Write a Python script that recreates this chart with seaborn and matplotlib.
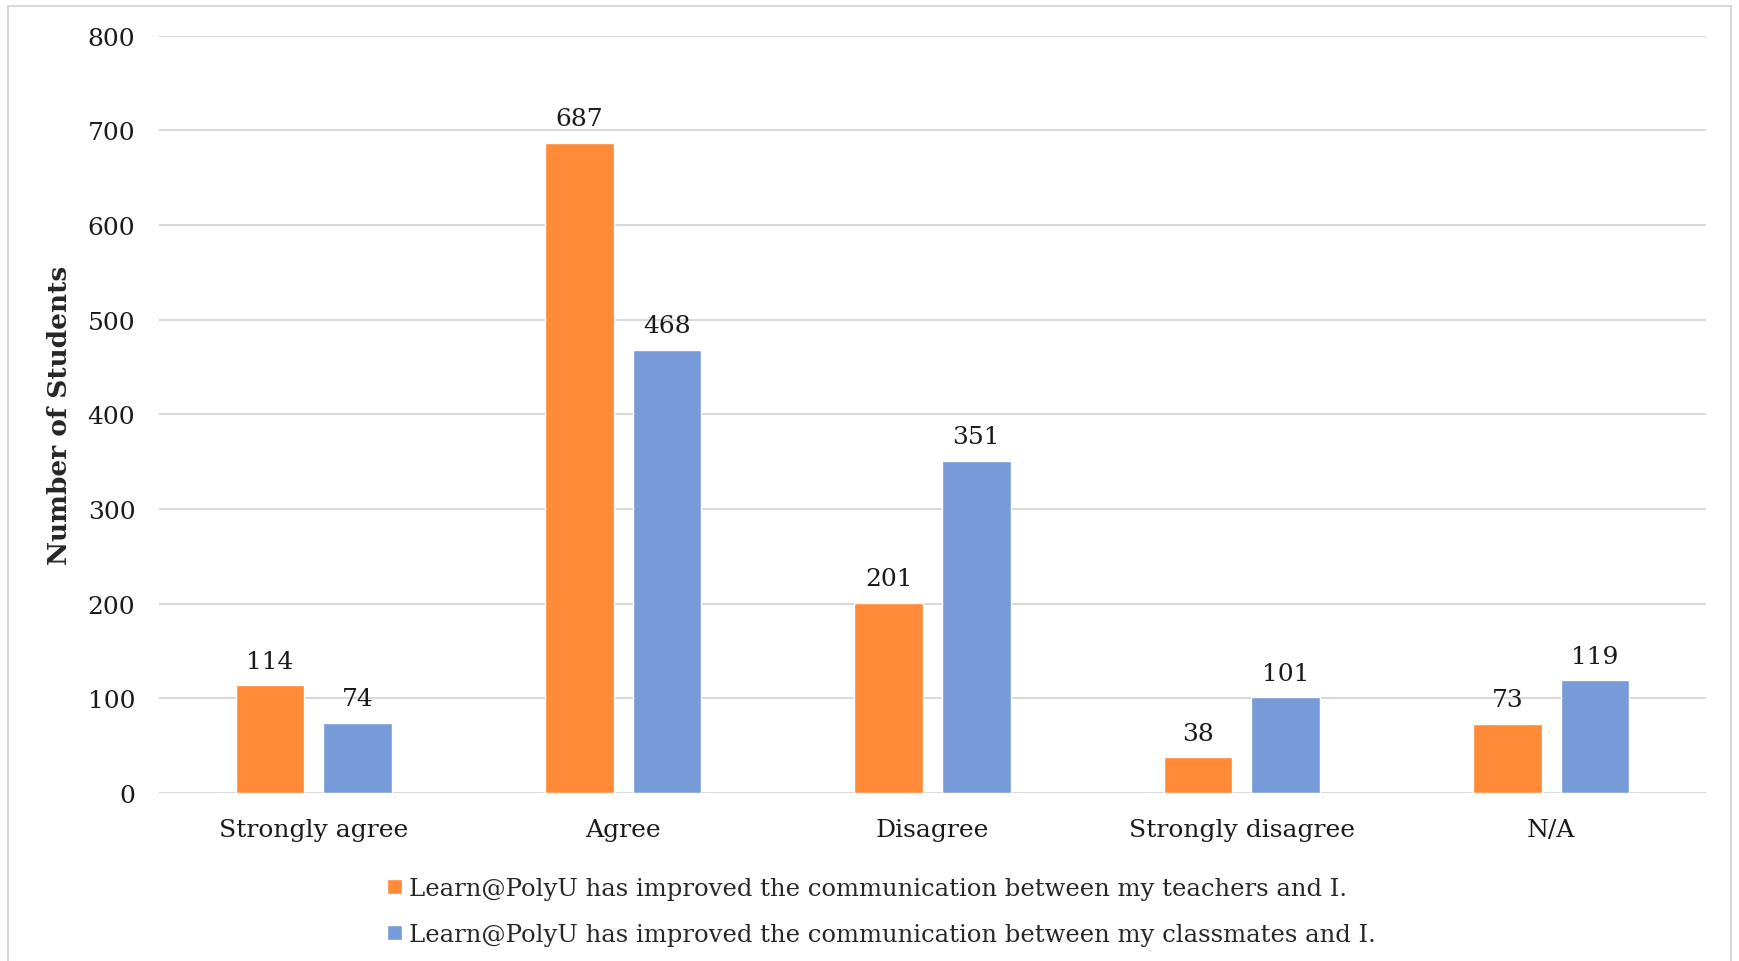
import pandas as pd
import matplotlib
matplotlib.use("Agg")
import matplotlib.pyplot as plt
from matplotlib.patches import Rectangle
import seaborn as sns

# Survey responses
categories = ["Strongly agree", "Agree", "Disagree", "Strongly disagree", "N/A"]
teachers = [114, 687, 201, 38, 73]
classmates = [74, 468, 351, 101, 119]
series_names = [
    "Learn@PolyU has improved the communication between my teachers and I.",
    "Learn@PolyU has improved the communication between my classmates and I.",
]
y_ticks = [0, 100, 200, 300, 400, 500, 600, 700, 800]

df = pd.DataFrame({
    "Response": categories * 2,
    "Students": teachers + classmates,
    "Statement": [series_names[0]] * 5 + [series_names[1]] * 5,
})

sns.set_theme(style="white")
plt.rcParams["font.family"] = ["DejaVu Serif"]

fig = plt.figure(figsize=(17.39, 9.62), dpi=100)
ax = fig.add_axes([0.0914, 0.1746, 0.8896, 0.7874])

sns.barplot(
    data=df, x="Response", y="Students", hue="Statement",
    palette=["#FF8A38", "#779BD8"], width=0.566, gap=0.216,
    saturation=1, ax=ax, legend=True,
)

for cont in ax.containers:
    ax.bar_label(cont, padding=9, fontsize=18, color="#1a1a1a")

ax.set_ylim(0, 800)
ax.set_yticks(y_ticks)
ax.set_xlim(-0.5, len(categories) - 0.5)
ax.yaxis.grid(True, color="#d9d9d9", linewidth=1.5)
ax.set_axisbelow(True)
sns.despine(ax=ax, left=True, top=True, right=True, bottom=True)
ax.tick_params(axis="y", length=0, pad=17, labelsize=18, labelcolor="#1a1a1a")
ax.tick_params(axis="x", length=0, pad=18, labelsize=18, labelcolor="#1a1a1a")
ax.set_xlabel("")
ax.set_ylabel("Number of Students", fontsize=19, fontweight="bold")
ax.yaxis.set_label_coords(-0.056, 0.5)

handles, labels = ax.get_legend_handles_labels()
ax.get_legend().remove()
fig.legend(
    handles, labels, loc="upper center", bbox_to_anchor=(0.507, 0.11),
    ncol=1, frameon=False, fontsize=17.5, handlelength=0.6, handleheight=0.6,
    handletextpad=0.3, labelspacing=0.95,
)

fig.patches.append(Rectangle(
    (8 / 1739, -0.02), (1731 - 8) / 1739, 1.02 - 7 / 962,
    transform=fig.transFigure, fill=False, edgecolor="#d9d9d9", linewidth=1.5,
))

fig.savefig("out.png", dpi=100)
